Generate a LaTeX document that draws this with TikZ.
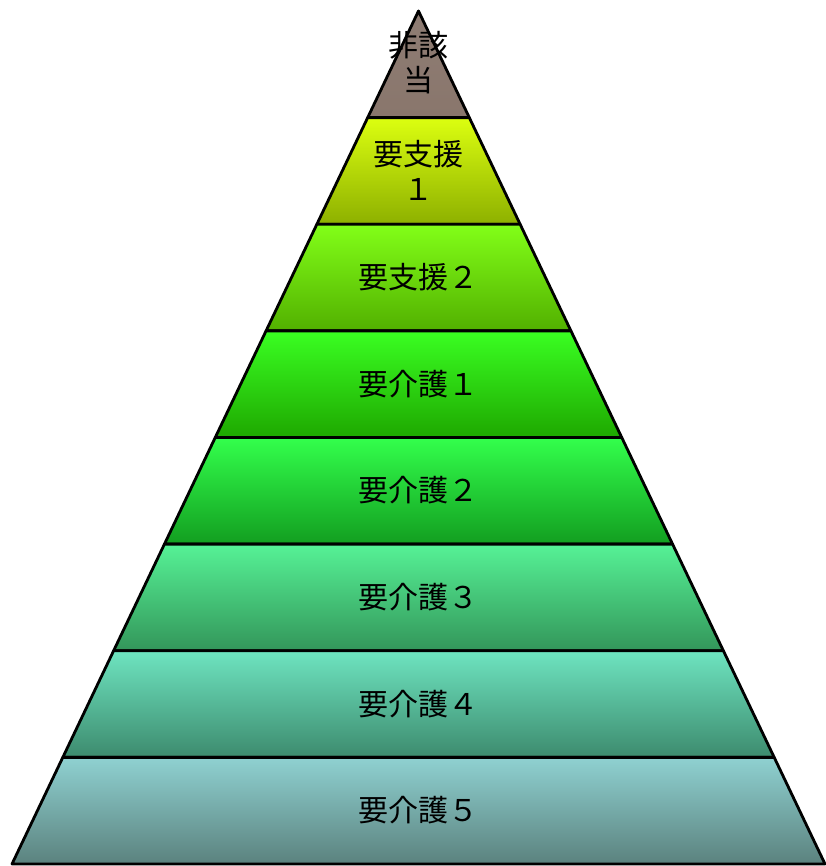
\documentclass[tikz,border=0pt]{standalone}
\usepackage{fontspec}
\newfontfamily\jpfont{Noto Sans CJK JP}
\usetikzlibrary{calc}
\definecolor{c1t}{HTML}{8F7D74}\definecolor{c1b}{HTML}{89766C}
\definecolor{c2t}{HTML}{DCFF10}\definecolor{c2b}{HTML}{8DB000}
\definecolor{c3t}{HTML}{82FF18}\definecolor{c3b}{HTML}{52B000}
\definecolor{c4t}{HTML}{3AFF22}\definecolor{c4b}{HTML}{1EA800}
\definecolor{c5t}{HTML}{33FF4C}\definecolor{c5b}{HTML}{129E20}
\definecolor{c6t}{HTML}{56F296}\definecolor{c6b}{HTML}{33965A}
\definecolor{c7t}{HTML}{6EE4C0}\definecolor{c7b}{HTML}{3D8B6E}
\definecolor{c8t}{HTML}{8FD1D1}\definecolor{c8b}{HTML}{5B827E}
\tikzset{
  layer/.style={draw=black, line width=2.8pt, line join=round},
  lbl/.style={font=\jpfont\fontsize{30}{35}\selectfont, text=black, align=center, inner sep=0pt}
}
\begin{document}
\begin{tikzpicture}[x=1pt,y=1pt]
\useasboundingbox (0,0) rectangle (825,866);
\coordinate (A) at (418.5,855);
\coordinate (L) at (12,2);
\coordinate (R) at (825,2);
\foreach \i/\c in {0/1,1/2,2/3,3/4,4/5,5/6,6/7,7/8}{
  \pgfmathsetmacro{\ta}{\i/8}
  \pgfmathsetmacro{\tb}{(\i+1)/8}
  \draw[layer, top color=c\c t, bottom color=c\c b]
    ($(A)!\ta!(L)$) -- ($(A)!\tb!(L)$) -- ($(A)!\tb!(R)$) -- ($(A)!\ta!(R)$) -- cycle;
}
\node[lbl] (n1) at (418.5,803) {非該\\当};
\node[lbl] (n2) at (418.5,696) {要支援\\１};
\node[lbl] (n3) at (418.5,588.5) {要支援２};
\node[lbl] (n4) at (418.5,482) {要介護１};
\node[lbl] (n5) at (418.5,375.5) {要介護２};
\node[lbl] (n6) at (418.5,268.5) {要介護３};
\node[lbl] (n7) at (418.5,162) {要介護４};
\node[lbl] (n8) at (418.5,55.5) {要介護５};
\end{tikzpicture}
\end{document}
